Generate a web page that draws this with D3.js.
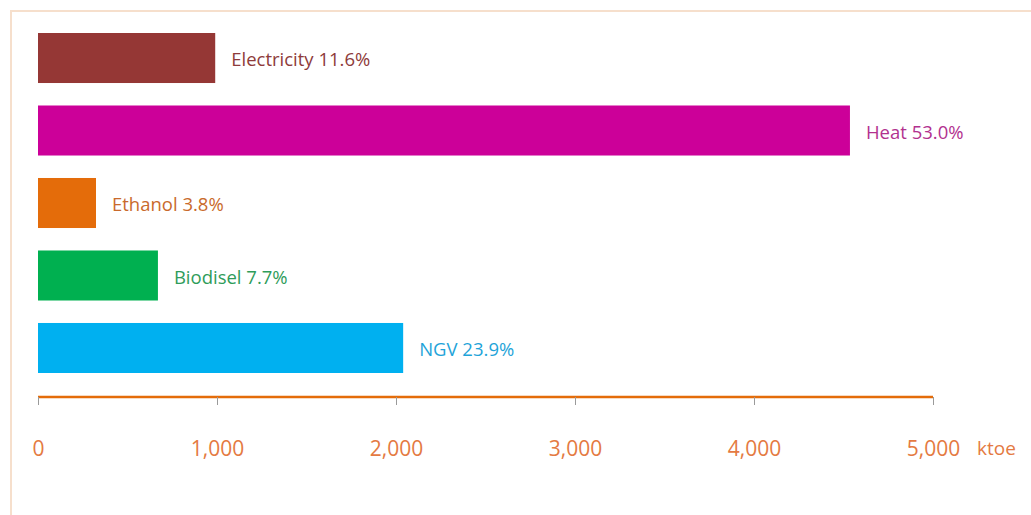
<!DOCTYPE html>
<html>
<head>
<meta charset="utf-8">
<script src="https://cdn.jsdelivr.net/npm/d3@7"></script>
<style>
  body { margin: 0; background: #fff; }
  svg { display: block; }
  text { font-family: "Open Sans", sans-serif; }
</style>
</head>
<body>
<svg></svg>
<script>
var WIDTH = 1031;
var HEIGHT = 515;

// data (ktoe)
var categories = ["Electricity", "Heat", "Ethanol", "Biodisel", "NGV"];
var values = [990, 4536, 324, 670, 2040];
var shares = ["11.6%", "53.0%", "3.8%", "7.7%", "23.9%"];
var barColors = ["#953735", "#cc0099", "#e46c0a", "#00b050", "#00b0f0"];
var labelColors = ["#8e3b3b", "#b2318f", "#c96a2c", "#2f9c5a", "#1fa4d9"];
var tickValues = [0, 1000, 2000, 3000, 4000, 5000];

var svg = d3.select("svg")
    .attr("width", WIDTH)
    .attr("height", HEIGHT);

// faint frame
svg.append("path")
    .attr("d", "M11,515 V11 H1031")
    .attr("fill", "none")
    .attr("stroke", "#f6dfcc")
    .attr("stroke-width", 2);

var x = d3.scaleLinear()
    .domain([0, 5000])
    .range([38, 933]);

var y = d3.scaleBand()
    .domain(categories)
    .range([33, 373])
    .paddingInner(0.31)
    .paddingOuter(0);

var data = categories.map(function(c, i) {
    return { name: c, value: values[i], share: shares[i], color: barColors[i], lcolor: labelColors[i] };
});

svg.selectAll("rect.bar")
    .data(data)
    .enter()
    .append("rect")
    .attr("class", "bar")
    .attr("x", x(0))
    .attr("y", function(d) { return y(d.name); })
    .attr("width", function(d) { return x(d.value) - x(0); })
    .attr("height", y.bandwidth())
    .attr("fill", function(d) { return d.color; });

svg.selectAll("text.lbl")
    .data(data)
    .enter()
    .append("text")
    .attr("class", "lbl")
    .attr("x", function(d) { return x(d.value) + 16; })
    .attr("y", function(d) { return y(d.name) + y.bandwidth() / 2 + 2; })
    .attr("dy", "0.35em")
    .attr("font-size", 18.5)
    .attr("fill", function(d) { return d.lcolor; })
    .text(function(d) { return d.name + " " + d.share; });

// axis
var xAxis = d3.axisBottom(x)
    .tickValues(tickValues)
    .tickSize(8)
    .tickPadding(36)
    .tickFormat(d3.format(","));

var ax = svg.append("g")
    .attr("transform", "translate(0,397)")
    .call(xAxis);

ax.select(".domain")
    .attr("d", "M" + x(0) + ",0H" + x(5000))
    .attr("stroke", "#e46c0a")
    .attr("stroke-width", 2.5);

ax.selectAll(".tick line")
    .attr("stroke", "#9a9a9a")
    .attr("stroke-width", 1);

ax.selectAll(".tick text")
    .attr("fill", "#e47a42")
    .attr("font-size", 21)
    .attr("font-family", "Open Sans, sans-serif");

svg.append("text")
    .attr("x", 977)
    .attr("y", 448)
    .attr("dy", "0.35em")
    .attr("font-size", 19)
    .attr("fill", "#e47a42")
    .text("ktoe");
</script>
</body>
</html>
